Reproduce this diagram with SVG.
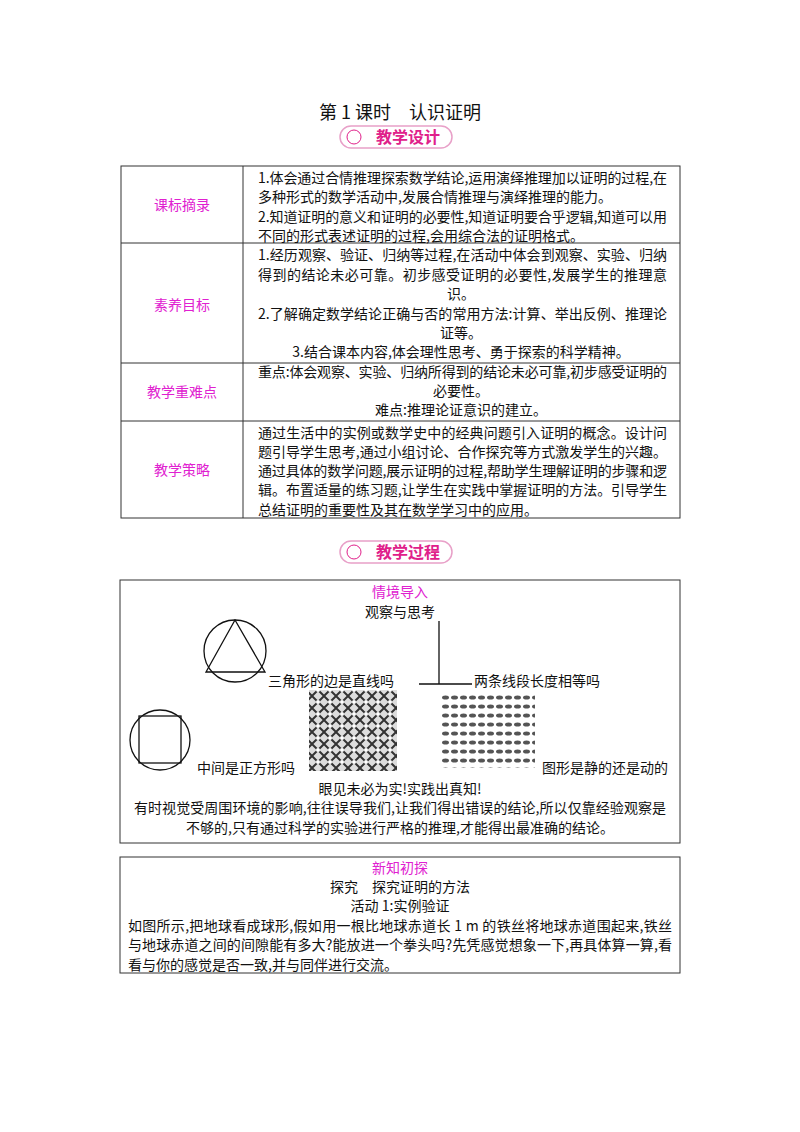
<svg xmlns="http://www.w3.org/2000/svg" width="800" height="1132" viewBox="0 0 800 1132">
<style>
text{font-family:"Noto Sans CJK SC","Liberation Sans",sans-serif;font-size:14px;fill:#111}
.m{fill:#e020d0}
.c{text-anchor:middle}
.b{fill:none;stroke:#333;stroke-width:1}
.l{fill:none;stroke:#111;stroke-width:1.3}
.badge{fill:#fff;stroke:#e8a0c8;stroke-width:1.5}
.bt{fill:#e0208a;font-size:16px;font-weight:bold}
</style>
<defs>
<pattern id="p1" width="12" height="12" patternUnits="userSpaceOnUse"><rect width="12" height="12" fill="#ddd"/><path d="M0 0L12 12M12 0L0 12" stroke="#333" stroke-width="2"/><circle cx="6" cy="6" r="2" fill="#fff"/></pattern>
<pattern id="p2" width="9" height="9" patternUnits="userSpaceOnUse"><rect width="9" height="9" fill="#fff"/><ellipse cx="4.5" cy="4.5" rx="3.5" ry="2" fill="#555"/></pattern>
</defs>
<text x="400" y="119" class="c" style="font-size:18px">第 1 课时　认识证明</text>
<g id="badge1"><rect x="340" y="126" width="112" height="22" rx="11" class="badge"/><circle cx="354" cy="137" r="7" fill="none" stroke="#e0208a"/><text x="408" y="143" class="c bt">教学设计</text></g>
<g id="table">
<rect x="121" y="166" width="559" height="352" class="b"/>
<path d="M243 166V518M121 243H680M121 363H680M121 421H680" class="b"/>
<text x="182" y="210" class="c m">课标摘录</text>
<text x="182" y="310" class="c m">素养目标</text>
<text x="182" y="397" class="c m">教学重难点</text>
<text x="182" y="475" class="c m">教学策略</text>
<text x="258" y="183" textLength="409">1.体会通过合情推理探索数学结论,运用演绎推理加以证明的过程,在</text>
<text x="258" y="202">多种形式的数学活动中,发展合情推理与演绎推理的能力。</text>
<text x="258" y="222" textLength="409">2.知道证明的意义和证明的必要性,知道证明要合乎逻辑,知道可以用</text>
<text x="258" y="241">不同的形式表述证明的过程,会用综合法的证明格式。</text>
<text x="258" y="260" textLength="409">1.经历观察、验证、归纳等过程,在活动中体会到观察、实验、归纳</text>
<text x="258" y="280" textLength="409">得到的结论未必可靠。初步感受证明的必要性,发展学生的推理意</text>
<text x="461" y="299" class="c">识。</text>
<text x="258" y="319" textLength="409">2.了解确定数学结论正确与否的常用方法:计算、举出反例、推理论</text>
<text x="461" y="338" class="c">证等。</text>
<text x="461" y="357" class="c">3.结合课本内容,体会理性思考、勇于探索的科学精神。</text>
<text x="258" y="377" textLength="409">重点:体会观察、实验、归纳所得到的结论未必可靠,初步感受证明的</text>
<text x="461" y="396" class="c">必要性。</text>
<text x="461" y="415" class="c">难点:推理论证意识的建立。</text>
<text x="258" y="438" textLength="409">通过生活中的实例或数学史中的经典问题引入证明的概念。设计问</text>
<text x="258" y="457" textLength="409">题引导学生思考,通过小组讨论、合作探究等方式激发学生的兴趣。</text>
<text x="258" y="476" textLength="409">通过具体的数学问题,展示证明的过程,帮助学生理解证明的步骤和逻</text>
<text x="258" y="495" textLength="409">辑。布置适量的练习题,让学生在实践中掌握证明的方法。引导学生</text>
<text x="258" y="515">总结证明的重要性及其在数学学习中的应用。</text>
</g>
<g id="badge2"><rect x="340" y="541" width="112" height="22" rx="11" class="badge"/><circle cx="354" cy="552" r="7" fill="none" stroke="#e0208a"/><text x="408" y="558" class="c bt">教学过程</text></g>
<g id="box2">
<rect x="120" y="580" width="560" height="263" class="b"/>
<text x="400" y="597" class="c m">情境导入</text>
<text x="400" y="617" class="c">观察与思考</text>
<circle cx="235" cy="651" r="31" class="l"/>
<path d="M235 620L206 672H265Z" class="l"/>
<circle cx="160" cy="740" r="30" class="l"/>
<rect x="139" y="716" width="42" height="47" class="l"/>
<path d="M419 684H472M439 621V684" class="l"/>
<text x="268" y="686">三角形的边是直线吗</text>
<text x="474" y="686">两条线段长度相等吗</text>
<rect x="309" y="690" width="88" height="81" fill="url(#p1)"/>
<rect x="441" y="692" width="94" height="76" fill="url(#p2)"/>
<text x="197" y="773">中间是正方形吗</text>
<text x="542" y="773">图形是静的还是动的</text>
<text x="400" y="794" class="c">眼见未必为实!实践出真知!</text>
<text x="134" y="813" textLength="532">有时视觉受周围环境的影响,往往误导我们,让我们得出错误的结论,所以仅靠经验观察是</text>
<text x="400" y="833" class="c">不够的,只有通过科学的实验进行严格的推理,才能得出最准确的结论。</text>
</g>
<g id="box3">
<rect x="120" y="857" width="560" height="116" class="b"/>
<text x="400" y="873" class="c m">新知初探</text>
<text x="400" y="892" class="c">探究　探究证明的方法</text>
<text x="400" y="911" class="c">活动 1:实例验证</text>
<text x="128" y="931" textLength="544">如图所示,把地球看成球形,假如用一根比地球赤道长 1 m 的铁丝将地球赤道围起来,铁丝</text>
<text x="128" y="950" textLength="544">与地球赤道之间的间隙能有多大?能放进一个拳头吗?先凭感觉想象一下,再具体算一算,看</text>
<text x="128" y="970">看与你的感觉是否一致,并与同伴进行交流。</text>
</g>
</svg>
